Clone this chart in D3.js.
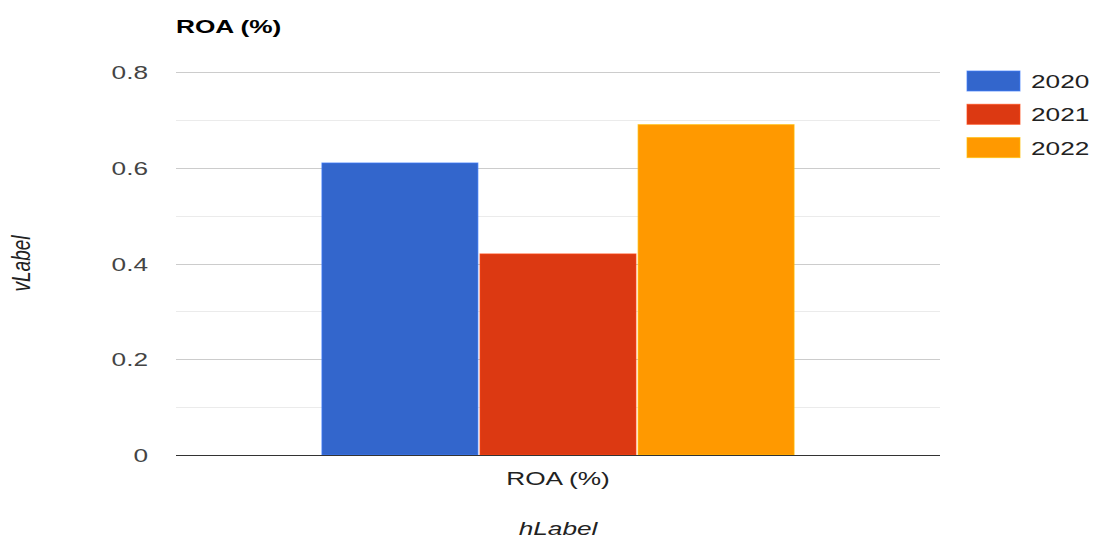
<!DOCTYPE html>
<html>
<head>
<meta charset="utf-8">
<script src="https://cdn.jsdelivr.net/npm/d3@7"></script>
<style>
  html, body { margin: 0; padding: 0; background: #fff; }
  svg { display: block; }
  text { font-family: Arial, "Liberation Sans", sans-serif; }
</style>
</head>
<body>
<svg id="chart" width="1096" height="540"></svg>
<script>
// Chart data
const categories = ["ROA (%)"];
const seriesNames = ["2020", "2021", "2022"];
const values2020 = [0.61];
const values2021 = [0.42];
const values2022 = [0.69];
const seriesColors = ["#3366cc", "#dc3912", "#ff9900"];
const majorTicks = [0, 0.2, 0.4, 0.6, 0.8];
const minorTicks = [0.1, 0.3, 0.5, 0.7];
const tickLabels = ["0", "0.2", "0.4", "0.6", "0.8"];

const seriesValues = [values2020, values2021, values2022];

const svg = d3.select("#chart");
const W = 1096, H = 540;
const plot = { left: 176, right: 940, top: 72, bottom: 455 };
const SX = 1.38; // horizontal text stretch
const FS = 19;

function stretchedText(g, x, y, str, opts = {}) {
  const t = g.append("text")
    .attr("transform", `translate(${x},${y}) scale(${SX},1)` + (opts.rotate ? ` rotate(${opts.rotate})` : ""))
    .attr("font-size", opts.size || FS)
    .attr("fill", opts.fill || "#444")
    .attr("text-anchor", opts.anchor || "start")
    .text(str);
  if (opts.weight) t.attr("font-weight", opts.weight);
  if (opts.italic) t.attr("font-style", "italic");
  return t;
}

const y = d3.scaleLinear().domain([0, 0.8]).range([plot.bottom, plot.top]);
const x0 = d3.scaleBand().domain(categories).range([plot.left, plot.right])
  .paddingInner(0).paddingOuter(0.309);
const x1 = d3.scaleBand().domain(seriesNames).range([0, x0.bandwidth()]).paddingInner(0.013);

// Gridlines
const grid = svg.append("g");
grid.selectAll("line.minor").data(minorTicks).join("line")
  .attr("class", "minor")
  .attr("x1", plot.left).attr("x2", plot.right)
  .attr("y1", d => Math.round(y(d)) + 0.5).attr("y2", d => Math.round(y(d)) + 0.5)
  .attr("stroke", "#ebebeb").attr("stroke-width", 1);
grid.selectAll("line.major").data(majorTicks.filter(d => d !== 0)).join("line")
  .attr("class", "major")
  .attr("x1", plot.left).attr("x2", plot.right)
  .attr("y1", d => Math.round(y(d)) + 0.5).attr("y2", d => Math.round(y(d)) + 0.5)
  .attr("stroke", "#cccccc").attr("stroke-width", 1);

// Bars
const barData = [];
categories.forEach((c, ci) => {
  seriesNames.forEach((s, si) => {
    barData.push({ cat: c, series: s, value: seriesValues[si][ci], color: seriesColors[si] });
  });
});
svg.append("g").selectAll("rect").data(barData).join("rect")
  .attr("x", d => x0(d.cat) + x1(d.series))
  .attr("y", d => y(d.value))
  .attr("width", x1.bandwidth())
  .attr("height", d => y(0) - y(d.value))
  .attr("fill", d => d.color)
  .attr("stroke", d => d3.color(d.color).brighter(0.6))
  .attr("stroke-opacity", 0.7)
  .attr("stroke-width", 1);

// Baseline
svg.append("line")
  .attr("x1", plot.left).attr("x2", plot.right)
  .attr("y1", y(0) + 0.5).attr("y2", y(0) + 0.5)
  .attr("stroke", "#333").attr("stroke-width", 1);

// Y tick labels
const yAxisG = svg.append("g");
majorTicks.forEach((v, i) => {
  stretchedText(yAxisG, 148, y(v) + 7, tickLabels[i], { anchor: "end", fill: "#444" });
});

// X category labels
const xAxisG = svg.append("g");
categories.forEach(c => {
  stretchedText(xAxisG, x0(c) + x0.bandwidth() / 2, 485, c, { anchor: "middle", fill: "#222" });
});

// Title
stretchedText(svg, 176, 33, "ROA (%)", { weight: "bold", fill: "#000" });

// Axis titles
stretchedText(svg, (plot.left + plot.right) / 2, 535, "hLabel", { anchor: "middle", italic: true, fill: "#222" });
svg.append("text")
  .attr("transform", `translate(30,${(plot.top + plot.bottom) / 2 + 0}) rotate(-90) scale(1,${SX})`)
  .attr("font-size", FS).attr("font-style", "italic").attr("fill", "#222")
  .attr("text-anchor", "middle")
  .text("vLabel");

// Legend
const legend = svg.append("g");
seriesNames.forEach((s, i) => {
  const ly = 71 + i * 33.3;
  legend.append("rect")
    .attr("x", 967).attr("y", ly).attr("width", 53).attr("height", 20)
    .attr("fill", seriesColors[i])
    .attr("stroke", d3.color(seriesColors[i]).brighter(0.6))
    .attr("stroke-opacity", 0.7);
  stretchedText(legend, 1031, ly + 17, s, { fill: "#222" });
});
</script>
</body>
</html>
